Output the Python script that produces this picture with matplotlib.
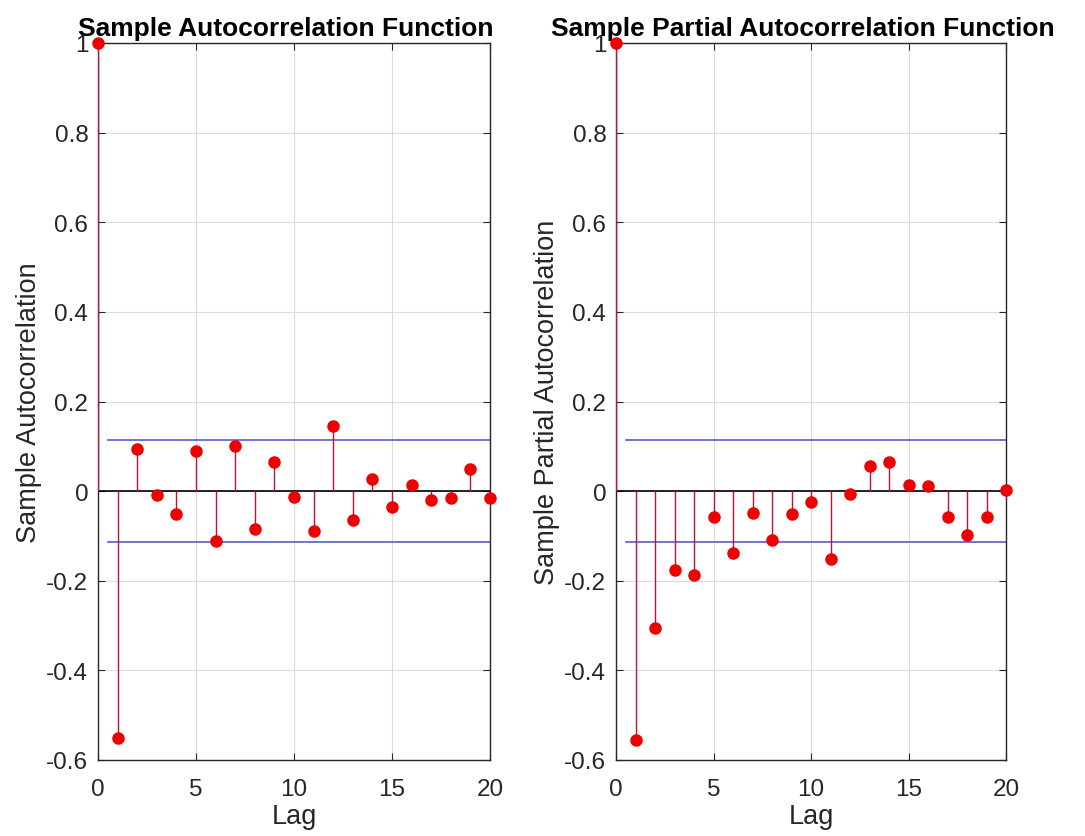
import numpy as np
from matplotlib import pyplot as plt
from matplotlib.ticker import FuncFormatter

plt.rcParams['font.family'] = ['Liberation Sans', 'DejaVu Sans']

lags = np.arange(0, 21)
acf = [1.0, -0.55, 0.094, -0.008, -0.052, 0.089, -0.112, 0.100, -0.085, 0.066, -0.014,
       -0.088, 0.145, -0.064, 0.027, -0.035, 0.013, -0.019, -0.016, 0.049, -0.016]
pacf = [1.0, -0.556, -0.306, -0.175, -0.187, -0.057, -0.139, -0.049, -0.109, -0.051, -0.025,
        -0.151, -0.006, 0.055, 0.064, 0.013, 0.011, -0.058, -0.099, -0.058, 0.003]
bound = 0.114
titles = ['Sample Autocorrelation Function', 'Sample Partial Autocorrelation Function']
ylabels = ['Sample Autocorrelation', 'Sample Partial Autocorrelation']

fmt = FuncFormatter(lambda v, p: ('%g' % round(v, 2)))

fig = plt.figure(figsize=(10.85, 8.37), dpi=100)
W, H = 1085., 837.
boxes = [[98/W, 76/H, 392/W, 717/H], [616/W, 76/H, 390/W, 717/H]]

for box, vals, ttl, ylab in zip(boxes, [acf, pacf], titles, ylabels):
    ax = fig.add_axes(box)
    ax.grid(True, color='#dcdcdc', lw=0.8)
    ax.set_axisbelow(True)
    ax.axhline(0, color='black', lw=1.2, zorder=2)
    ax.plot([0.5, 20], [bound, bound], color='#5a5acd', lw=1.2, zorder=2)
    ax.plot([0.5, 20], [-bound, -bound], color='#5a5acd', lw=1.2, zorder=2)
    ax.vlines(lags, 0, vals, color='#c8102e', lw=1.0, zorder=3)
    ax.plot(lags, vals, 'o', color='#ee0000', ms=8, zorder=4, clip_on=False)
    ax.set_xlim(0, 20)
    ax.set_ylim(-0.6, 1)
    ax.set_xticks([0, 5, 10, 15, 20])
    ax.set_yticks(np.arange(-0.6, 1.01, 0.2))
    ax.yaxis.set_major_formatter(fmt)
    ax.tick_params(direction='in', top=True, right=True, labelsize=17.5, colors='#262626', length=5)
    ax.tick_params(axis='x', pad=13)
    ax.tick_params(axis='y', pad=7)
    for s in ax.spines.values():
        s.set_color('#262626')
        s.set_linewidth(1.0)
    ax.set_xlabel('Lag', fontsize=19.5, color='#262626', labelpad=2)
    ax.set_ylabel(ylab, fontsize=19.5, color='#262626', labelpad=3)
    ax.set_title(ttl, fontsize=19, fontweight='bold', pad=6, x=0.48)

fig.savefig('out.png')
